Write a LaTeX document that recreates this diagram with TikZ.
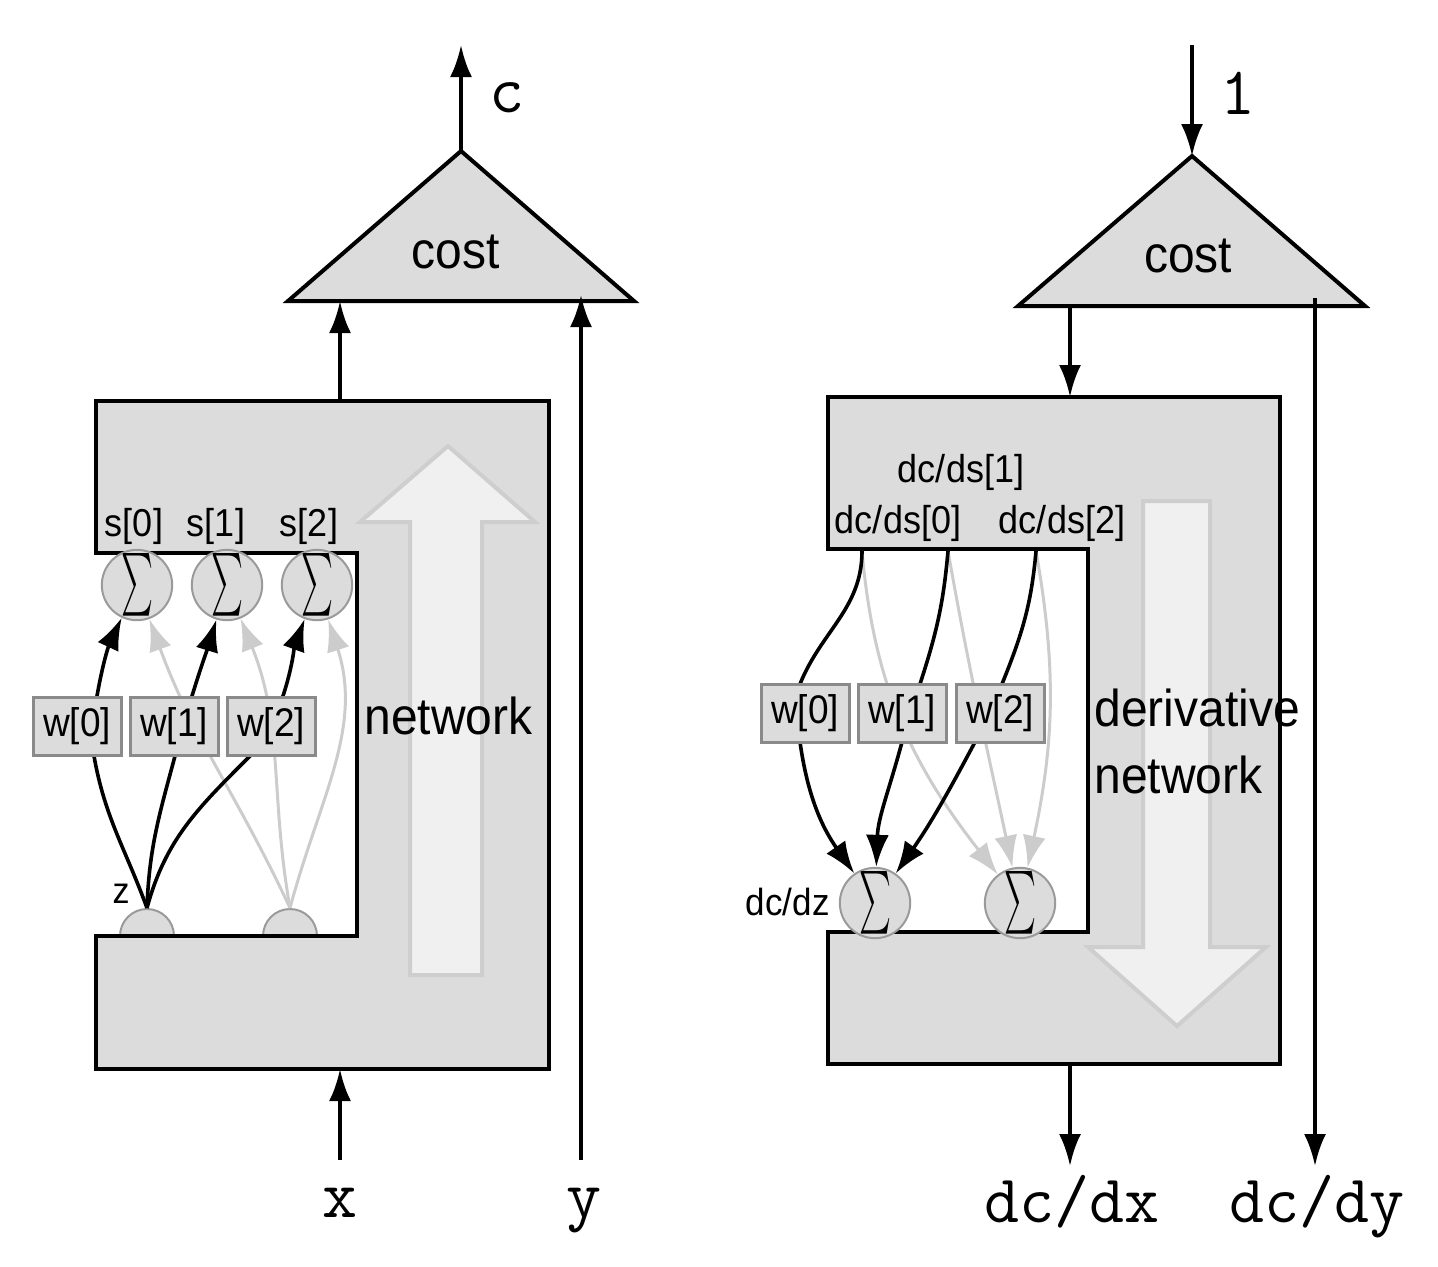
\documentclass[tikz,border=0pt]{standalone}
\usepackage{fontspec}
\setmainfont{Liberation Sans}
\usepackage{graphicx}
\usetikzlibrary{arrows.meta,calc}
\definecolor{boxfill}{HTML}{DCDCDC}
\definecolor{wborder}{HTML}{8A8A8A}
\definecolor{sumborder}{HTML}{9A9A9A}
\definecolor{palegray}{HTML}{CCCCCC}
\definecolor{bigfill}{HTML}{F0F0F0}
\definecolor{bigborder}{HTML}{CECECE}
\newcommand\sumglyph{\resizebox{16pt}{23.5pt}{$\sum$}}
\newcommand\tall[1]{\scalebox{1}[1.08]{#1}}
\begin{document}
\begin{tikzpicture}[x=0.5pt,y=-0.5pt,
  mainarrow/.style={line width=2pt,black,-{Latex[length=16pt,width=11pt]}},
  frame/.style={line width=2pt,draw=black,fill=boxfill},
  bigarrow/.style={line width=2pt,draw=bigborder,fill=bigfill},
  wbox/.style={draw=wborder,fill=boxfill,line width=1.5pt,minimum width=44pt,minimum height=29pt,inner sep=0pt,font=\fontsize{18.5}{18.5}\selectfont},
  sumnode/.style={circle,draw=sumborder,fill=boxfill,line width=1pt,minimum size=30pt,inner sep=0pt},
  innode/.style={circle,draw=sumborder,fill=boxfill,line width=1pt,minimum size=27pt,inner sep=0pt},
  darkcurve/.style={line width=1.8pt,black,-{Latex[length=16pt,width=11.5pt]}},
  palecurve/.style={line width=1.5pt,palegray,-{Latex[length=16pt,width=11.5pt]}},
  lbl/.style={font=\fontsize{18}{18}\selectfont,inner sep=0pt,anchor=base},
  biglbl/.style={font=\fontsize{24}{24}\selectfont,inner sep=0pt,anchor=base},
  mono/.style={font=\ttfamily\fontsize{34}{34}\selectfont,inner sep=0pt,anchor=base},
]
\useasboundingbox (0,0) rectangle (1438,1266);

% ================= LEFT: network =================
% input semicircles (lower half hidden by the frame)
\node[innode] (lin0) at (147,936) {};
\node[innode] (lin1) at (290,936) {};
% network frame
\draw[frame] (96,401) -- (549,401) -- (549,1069) -- (96,1069) -- (96,936)
  -- (357,936) -- (357,553) -- (96,553) -- cycle;
% big up arrow
\draw[bigarrow] (410,975) -- (482,975) -- (482,522) -- (535,522) -- (448,446)
  -- (360,522) -- (410,522) -- cycle;
\node[biglbl,anchor=base west] (lnet) at (364,734) {\tall{network}};
% cost triangle
\draw[frame,line join=miter] (461,151) -- (634,301) -- (288,301) -- cycle;
\node[biglbl] (lcost) at (456,268) {\tall{cost}};
\coordinate (lapex) at (461,151);
\coordinate (lcend) at (461,45);
\draw[mainarrow] (lapex) -- (lcend);
\node[mono] (clbl) at (507,112) {c};
\coordinate (lnettop) at (340,401);
\coordinate (lcostin) at (340,301);
\draw[mainarrow] (lnettop) -- (lcostin);
\coordinate (lystart) at (581,1160);
\coordinate (lyend) at (581,295);
\draw[mainarrow] (lystart) -- (lyend);
\coordinate (lxstart) at (340,1160);
\coordinate (lnetbot) at (340,1069);
\draw[mainarrow] (lxstart) -- (lnetbot);
\node[mono] (xlbl) at (340,1217) {x};
\node[mono] (ylbl) at (584,1217) {y};
% labels s[i]
\node[lbl] (ls0l) at (134,536) {\tall{s[0]}};
\node[lbl] (ls1l) at (216,536) {\tall{s[1]}};
\node[lbl] (ls2l) at (309,536) {\tall{s[2]}};
\node[font=\fontsize{17}{17}\selectfont,inner sep=0pt,anchor=base] (zl) at (121,903) {\tall{z}};
% sums
\node[sumnode] (ls0) at (137,585) {\sumglyph};
\node[sumnode] (ls1) at (227,585) {\sumglyph};
\node[sumnode] (ls2) at (317,585) {\sumglyph};
% weight boxes (positions)
\coordinate (lw0c) at (77,726);
\coordinate (lw1c) at (174,726);
\coordinate (lw2c) at (271,726);
% pale curves from second input
\draw[palecurve] (lin1.north) to[out=115,in=-70] (ls0);
\draw[palecurve] (lin1.north) to[out=100,in=-68] (ls1);
\draw[palecurve] (lin1.north) to[out=75,in=-72] (ls2);
% dark curves from z
\draw[darkcurve] (lin0.north) to[out=110,in=-80] (94,756) -- (97,696) to[out=80,in=-115] (ls0);
\draw[darkcurve] (lin0.north) to[out=88,in=-105] (175,756) -- (192,696) to[out=73,in=-107] (ls1);
\draw[darkcurve] (lin0.north) to[out=75,in=-135] (250,756) -- (283,696) to[out=72,in=-110] (ls2);
\node[wbox] (lw0) at (lw0c) {\tall{w[0]}};
\node[wbox] (lw1) at (lw1c) {\tall{w[1]}};
\node[wbox] (lw2) at (lw2c) {\tall{w[2]}};

% ================= RIGHT: derivative network =================
\draw[frame] (828,397) -- (1280,397) -- (1280,1064) -- (828,1064) -- (828,932)
  -- (1088,932) -- (1088,549) -- (828,549) -- cycle;
\draw[bigarrow] (1143,501) -- (1210,501) -- (1210,947) -- (1266,947) -- (1177,1026)
  -- (1088,947) -- (1143,947) -- cycle;
\node[biglbl,anchor=base west] (rder) at (1094,726) {\tall{derivative}};
\node[biglbl,anchor=base west] (rnet) at (1094,793) {\tall{network}};
\draw[frame,line join=miter] (1192,156) -- (1365,306) -- (1018,306) -- cycle;
\node[biglbl] (rcost) at (1188,272) {\tall{cost}};
\coordinate (rapex) at (1192,156);
\coordinate (ronestart) at (1192,45);
\draw[mainarrow] (ronestart) -- (rapex);
\node[mono] (onelbl) at (1238,114) {1};
\coordinate (rcostout) at (1070,306);
\coordinate (rnettop) at (1070,397);
\draw[mainarrow] (rcostout) -- (rnettop);
\coordinate (rdystart) at (1315,298);
\coordinate (rdyend) at (1315,1166);
\draw[mainarrow] (rdystart) -- (rdyend);
\coordinate (rnetbot) at (1070,1064);
\coordinate (rdxend) at (1070,1166);
\draw[mainarrow] (rnetbot) -- (rdxend);
\node[mono] (dxlbl) at (1072,1222) {dc/dx};
\node[mono] (dylbl) at (1317,1222) {dc/dy};
% labels
\node[lbl] (rds1) at (961,482) {\tall{dc/ds[1]}};
\node[lbl] (rds0) at (898,533) {\tall{dc/ds[0]}};
\node[lbl] (rds2) at (1062,533) {\tall{dc/ds[2]}};
\node[font=\fontsize{17.5}{17.5}\selectfont,inner sep=0pt,anchor=base east] (dzl) at (830,915) {\tall{dc/dz}};
% sums
\node[sumnode] (rs0) at (875,903) {\sumglyph};
\node[sumnode] (rs1) at (1020,903) {\sumglyph};
% sources
\coordinate (rsrc0) at (862,551);
\coordinate (rsrc1) at (948,551);
\coordinate (rsrc2) at (1036,551);
% pale curves
\draw[palecurve] (rsrc0) to[out=-85,in=128] (rs1);
\draw[palecurve] (rsrc1) to[out=-80,in=102] (rs1);
\draw[palecurve] (rsrc2) to[out=-80,in=78] (rs1);
% dark curves
\draw[darkcurve] (rsrc0) to[out=-90,in=68] (800,684) -- (800,742) to[out=-82,in=125] (rs0);
\draw[darkcurve] (rsrc1) to[out=-95,in=72] (920,684) -- (902,742) to[out=-105,in=88] (rs0);
\draw[darkcurve] (rsrc2) to[out=-95,in=68] (1002,684) -- (975,742) to[out=-118,in=55] (rs0);
\node[wbox] (rw0) at (805,713) {\tall{w[0]}};
\node[wbox] (rw1) at (902,713) {\tall{w[1]}};
\node[wbox] (rw2) at (1000,713) {\tall{w[2]}};
\end{tikzpicture}
\end{document}
